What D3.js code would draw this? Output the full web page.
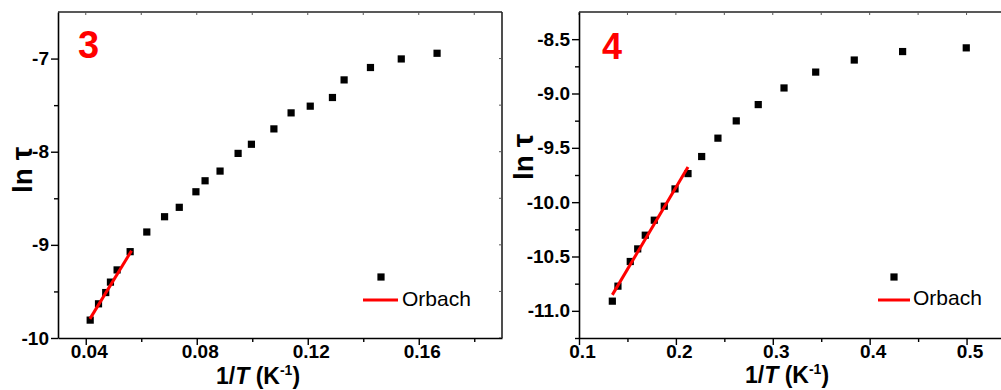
<!DOCTYPE html>
<html>
<head>
<meta charset="utf-8">
<script src="https://cdn.jsdelivr.net/npm/d3@7"></script>
<style>
  html, body { margin: 0; padding: 0; background: #fff; }
  svg { display: block; }
  text { font-family: "Liberation Sans", Arial, sans-serif; }
</style>
</head>
<body>
<svg id="chart" width="1001" height="390"></svg>
<script>
// Compound 3: ln(tau) versus 1/T
const invT3 = [0.0416, 0.0446, 0.0472, 0.0489, 0.0513, 0.0560, 0.0620, 0.0684, 0.0737, 0.0797, 0.0830,
               0.0884, 0.0949, 0.0997, 0.1078, 0.1140, 0.1209, 0.1289, 0.1331, 0.1426, 0.1537, 0.1666];
const lnTau3 = [-9.808, -9.633, -9.512, -9.400, -9.269, -9.073, -8.862, -8.698, -8.597, -8.430, -8.312,
                -8.208, -8.018, -7.920, -7.755, -7.583, -7.511, -7.418, -7.229, -7.096, -7.004, -6.943];
// Orbach fit for 3: lnTau = intercept + slope * (1/T)
const orbach3 = { intercept: -11.82, slope: 48.8, from: 0.0415, to: 0.0565 };

// Compound 4: ln(tau) versus 1/T
const invT4 = [0.1344, 0.1402, 0.1529, 0.1606, 0.1684, 0.1777, 0.1880, 0.1991, 0.2125, 0.2266, 0.2434,
               0.2623, 0.2850, 0.3116, 0.3443, 0.3841, 0.4340, 0.4997];
const lnTau4 = [-10.911, -10.773, -10.546, -10.430, -10.304, -10.166, -10.037, -9.878, -9.737, -9.580, -9.411,
                -9.252, -9.102, -8.949, -8.803, -8.692, -8.614, -8.580];
const orbach4 = { intercept: -12.88, slope: 15.08, from: 0.1344, to: 0.2125 };

// Tick values
const xMajor3 = [0.04, 0.08, 0.12, 0.16];
const xMinor3 = [0.06, 0.10, 0.14, 0.18];
const yMajor3 = [-10, -9, -8, -7];
const yMinor3 = [-9.5, -8.5, -7.5];
const xMajor4 = [0.1, 0.2, 0.3, 0.4, 0.5];
const xMinor4 = [0.15, 0.25, 0.35, 0.45];
const yMajor4 = [-11.0, -10.5, -10.0, -9.5, -9.0, -8.5];
const yMinor4 = [-11.25, -10.75, -10.25, -9.75, -9.25, -8.75];

const legendLabel = "Orbach";

const svg = d3.select("#chart");

// number formats using a plain hyphen for the minus sign
const fmt = spec => {
  const f = d3.format(spec);
  return d => f(d).replace("\u2212", "-");
};

function panel(cfg) {
  const g = svg.append("g");
  const x = d3.scaleLinear().domain(cfg.xDomain).range(cfg.xRange);
  const y = d3.scaleLinear().domain(cfg.yDomain).range([338, 12]);
  const [x0, x1] = cfg.xRange;

  // frame (top and right sides)
  g.append("line").attr("x1", x0).attr("x2", x1).attr("y1", 12).attr("y2", 12)
    .attr("stroke", "#222").attr("stroke-width", 1.6);
  g.append("line").attr("x1", x1).attr("x2", x1).attr("y1", 12).attr("y2", 338)
    .attr("stroke", "#222").attr("stroke-width", 1.6);
  // small inward ticks on top and right edges
  const allX = cfg.xMajor.concat(cfg.xMinor);
  g.selectAll(".tt").data(allX).join("line")
    .attr("x1", d => x(d)).attr("x2", d => x(d)).attr("y1", 12).attr("y2", 15)
    .attr("stroke", "#555").attr("stroke-width", 1);
  const allY = cfg.yMajor.concat(cfg.yMinor);
  g.selectAll(".rt").data(allY).join("line")
    .attr("x1", x1).attr("x2", x1 - 3).attr("y1", d => y(d)).attr("y2", d => y(d))
    .attr("stroke", "#555").attr("stroke-width", 1);

  // bottom axis
  const xAxis = d3.axisBottom(x).tickValues(cfg.xMajor).tickFormat(cfg.xFmt)
    .tickSizeInner(7).tickSizeOuter(0).tickPadding(2);
  const xa = g.append("g").attr("transform", "translate(0,338)").call(xAxis);
  xa.select(".domain").attr("stroke", "#000").attr("stroke-width", 1.6);
  xa.selectAll(".tick line").attr("stroke", "#000").attr("stroke-width", 1.4);
  xa.selectAll(".tick text").attr("font-size", 19).attr("font-weight", "bold")
    .attr("fill", "#000").attr("dx", 3).attr("dy", "0.6em");
  const xm = d3.axisBottom(x).tickValues(cfg.xMinor).tickFormat("").tickSizeInner(4).tickSizeOuter(0);
  const xma = g.append("g").attr("transform", "translate(0,338)").call(xm);
  xma.select(".domain").remove();
  xma.selectAll(".tick line").attr("stroke", "#000").attr("stroke-width", 1.4);

  // left axis
  const yAxis = d3.axisLeft(y).tickValues(cfg.yMajor).tickFormat(cfg.yFmt)
    .tickSizeInner(7).tickSizeOuter(0).tickPadding(2);
  const ya = g.append("g").attr("transform", `translate(${x0},0)`).call(yAxis);
  ya.select(".domain").attr("stroke", "#000").attr("stroke-width", 1.6);
  ya.selectAll(".tick line").attr("stroke", "#000").attr("stroke-width", 1.4);
  ya.selectAll(".tick text").attr("font-size", 19).attr("font-weight", "bold").attr("fill", "#000");
  const ym = d3.axisLeft(y).tickValues(cfg.yMinor).tickFormat("").tickSizeInner(4).tickSizeOuter(0);
  const yma = g.append("g").attr("transform", `translate(${x0},0)`).call(ym);
  yma.select(".domain").remove();
  yma.selectAll(".tick line").attr("stroke", "#000").attr("stroke-width", 1.4);

  // data squares
  const pts = cfg.xs.map((v, i) => [v, cfg.ys[i]]);
  g.selectAll(".pt").data(pts).join("rect")
    .attr("x", d => x(d[0]) - 3.6).attr("y", d => y(d[1]) - 3.6)
    .attr("width", 7.2).attr("height", 7.2).attr("fill", "#000");

  // Orbach fit line
  const f = cfg.fit;
  const fitPts = [f.from, f.to].map(v => [v, f.intercept + f.slope * v]);
  g.append("path")
    .attr("d", d3.line().x(d => x(d[0])).y(d => y(d[1]))(fitPts))
    .attr("stroke", "#ff0000").attr("stroke-width", 3).attr("fill", "none");

  // panel label
  g.append("text").attr("x", cfg.tag.x).attr("y", cfg.tag.y)
    .attr("font-size", cfg.tag.size).attr("font-weight", "bold").attr("fill", "#ff0000")
    .text(cfg.tag.text);

  // legend
  const L = cfg.legend;
  g.append("rect").attr("x", L.sx - 3.6).attr("y", L.sy - 3.6).attr("width", 7.2).attr("height", 7.2)
    .attr("fill", "#000");
  g.append("line").attr("x1", L.lx0).attr("x2", L.lx1).attr("y1", L.ly).attr("y2", L.ly)
    .attr("stroke", "#ff0000").attr("stroke-width", 3);
  g.append("text").attr("x", L.tx).attr("y", L.ty).attr("font-size", 21).attr("fill", "#000")
    .text(legendLabel);

  // y axis title
  const yt = g.append("text")
    .attr("transform", `translate(${cfg.yTitle.x},${cfg.yTitle.y}) rotate(-90)`)
    .attr("text-anchor", "middle").attr("font-size", 28).attr("font-weight", "bold").attr("fill", "#000");
  yt.append("tspan").text("ln ");
  yt.append("tspan").attr("font-size", 30).text("τ");

  // x axis title
  const xt = g.append("text").attr("x", cfg.xTitle.x).attr("y", cfg.xTitle.y)
    .attr("font-size", 23).attr("font-weight", "bold").attr("fill", "#000");
  xt.append("tspan").text("1/");
  xt.append("tspan").attr("font-style", "italic").text("T");
  xt.append("tspan").text(" (K");
  xt.append("tspan").attr("font-size", 14).attr("dy", -9).text("-1");
  xt.append("tspan").attr("dy", 9).text(")");
}

panel({
  xDomain: [0.03, 0.19], xRange: [58, 502], yDomain: [-10, -6.5],
  xMajor: xMajor3, xMinor: xMinor3, yMajor: yMajor3, yMinor: yMinor3,
  xFmt: fmt(".2f"), yFmt: fmt("d"),
  xs: invT3, ys: lnTau3, fit: orbach3,
  tag: { text: "3", x: 78, y: 58, size: 38 },
  legend: { sx: 381, sy: 277, lx0: 363, lx1: 398, ly: 300, tx: 402, ty: 306 },
  yTitle: { x: 32, y: 170 },
  xTitle: { x: 216, y: 384 }
});

panel({
  xDomain: [0.1, 0.55], xRange: [579, 1015], yDomain: [-11.25, -8.25],
  xMajor: xMajor4, xMinor: xMinor4, yMajor: yMajor4, yMinor: yMinor4,
  xFmt: fmt(".1f"), yFmt: fmt(".1f"),
  xs: invT4, ys: lnTau4, fit: orbach4,
  tag: { text: "4", x: 602, y: 59, size: 36 },
  legend: { sx: 894, sy: 277, lx0: 878, lx1: 910, ly: 300, tx: 913, ty: 305 },
  yTitle: { x: 533, y: 157 },
  xTitle: { x: 745, y: 383 }
});
</script>
</body>
</html>
